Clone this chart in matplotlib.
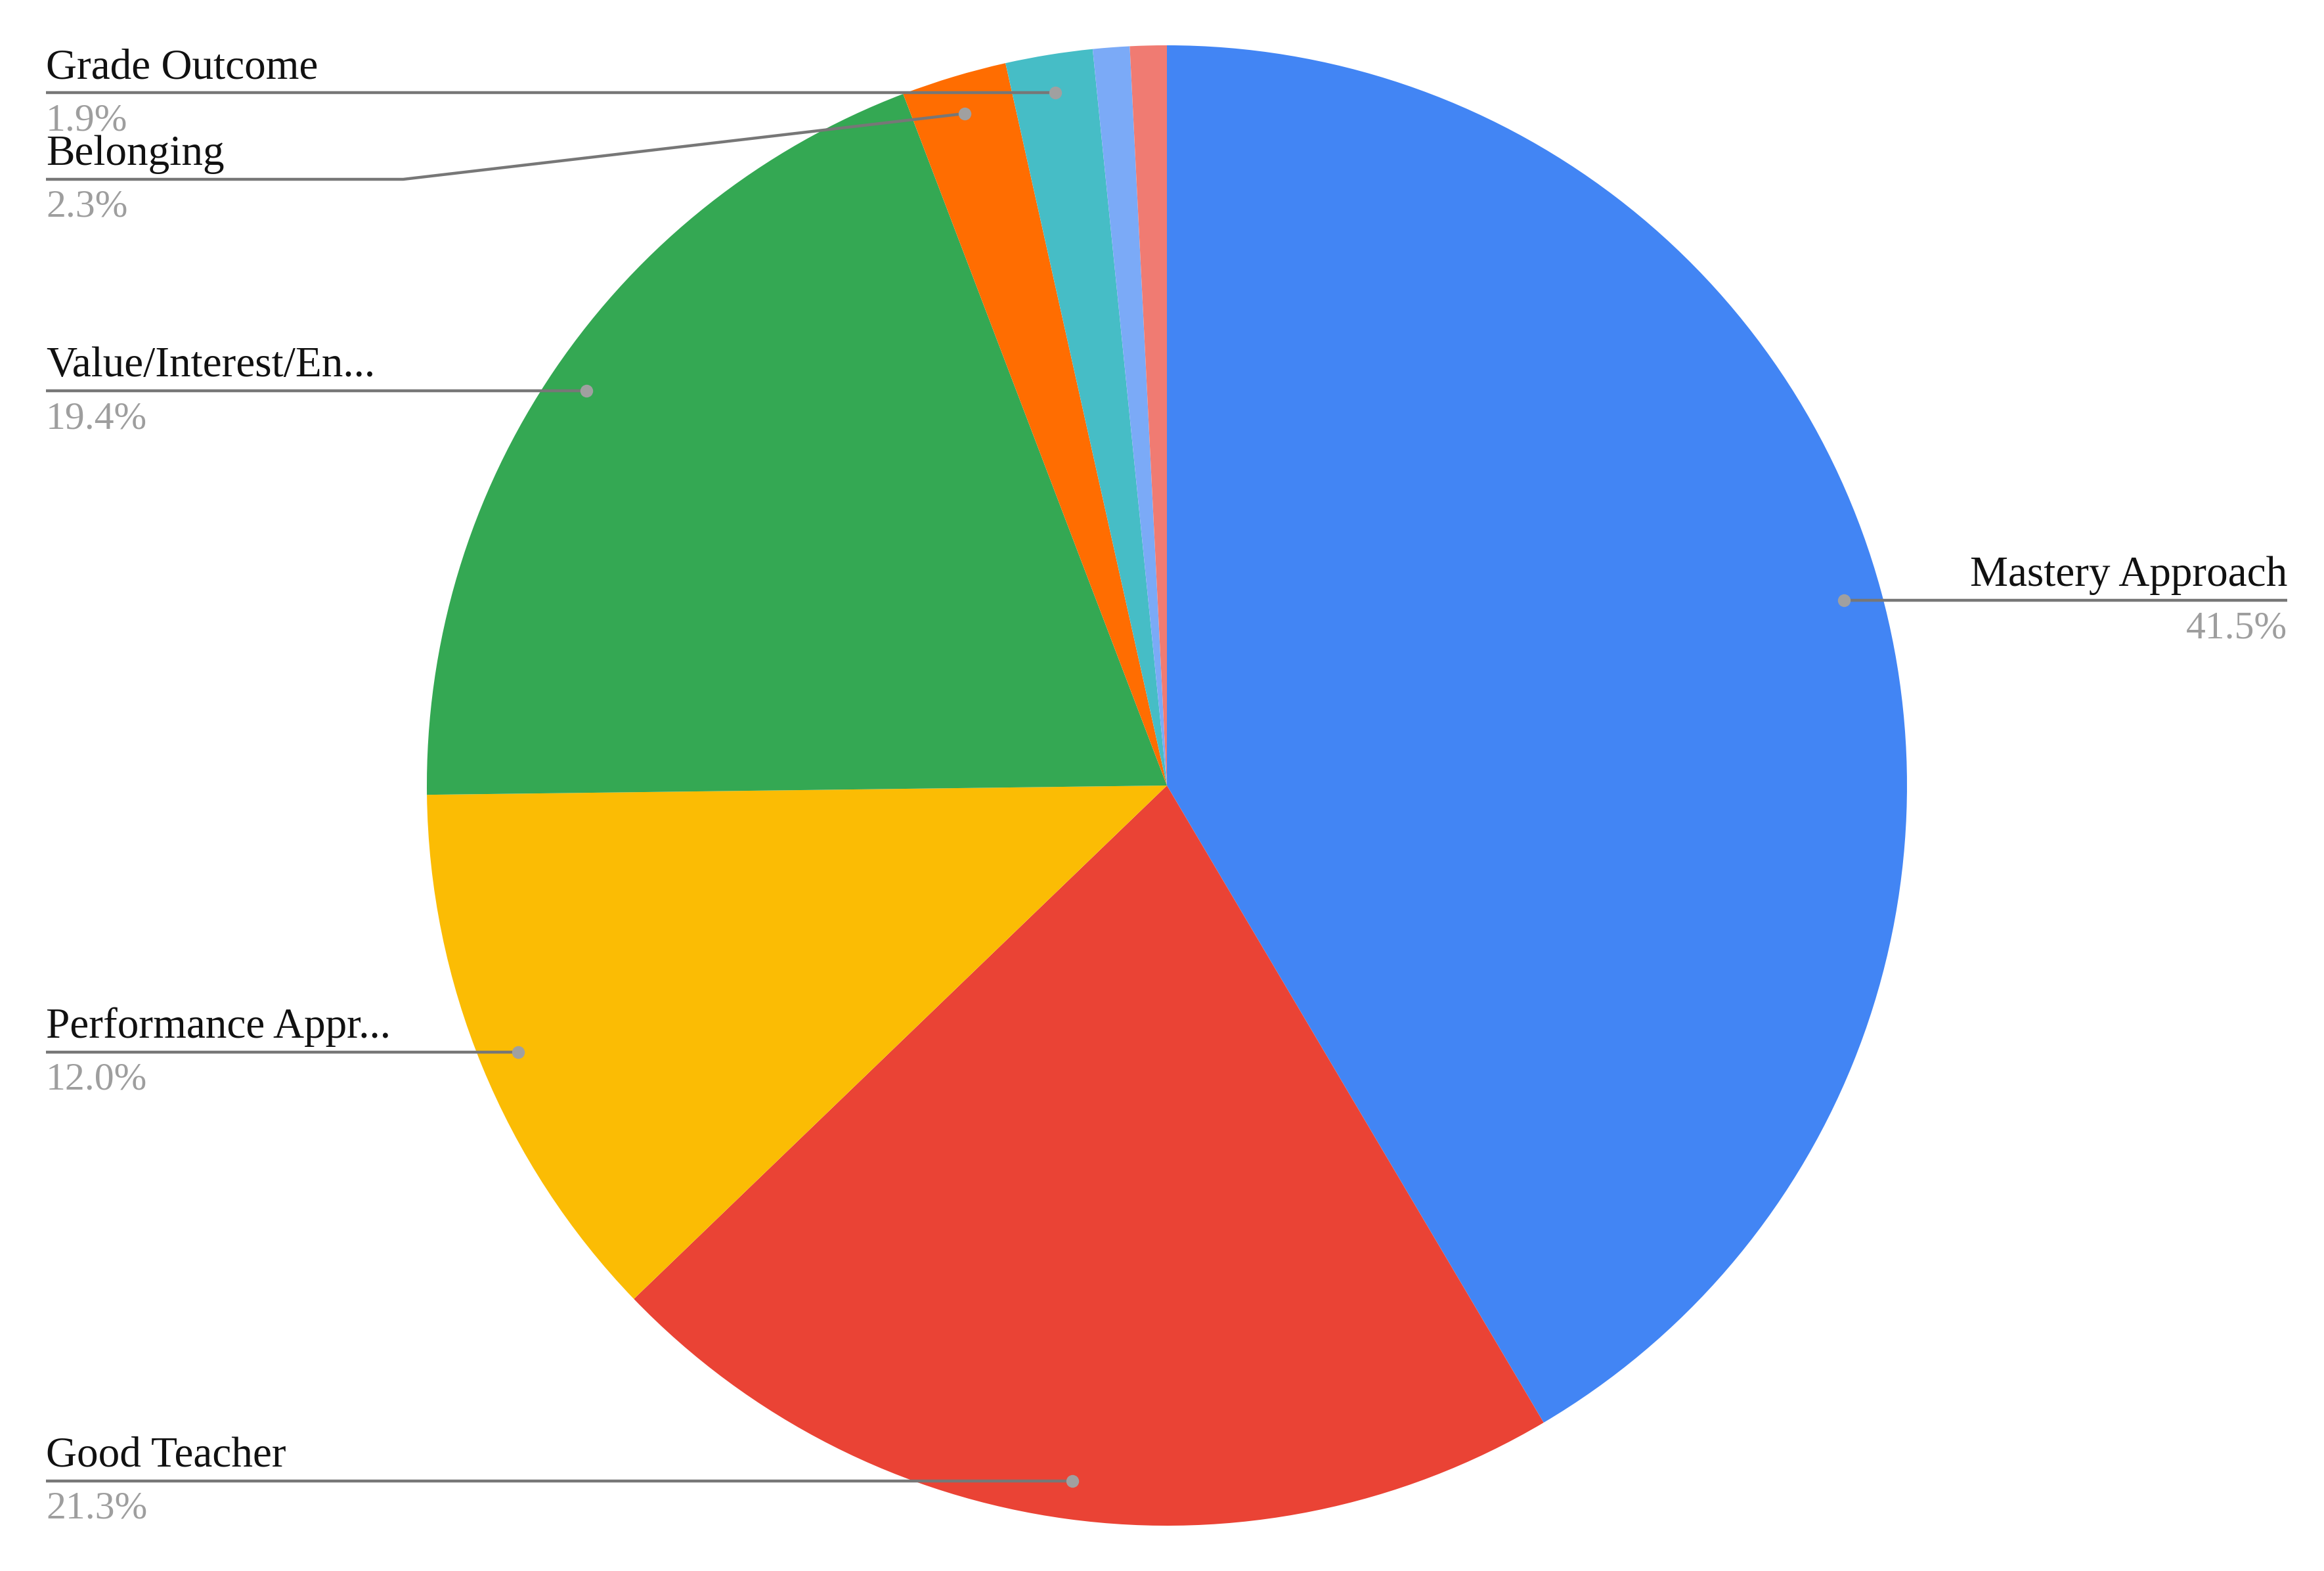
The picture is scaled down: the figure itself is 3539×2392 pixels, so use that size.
import numpy as np
import matplotlib.pyplot as plt

# canvas size in pixels (dpi 100)
W, H = 3539, 2392

# data, clockwise from 12 o'clock
categories = ["Mastery Approach", "Good Teacher", "Performance Appr...",
              "Value/Interest/En...", "Belonging", "Grade Outcome",
              "Other A", "Other B"]
shares = [41.5, 21.3, 12.0, 19.4, 2.3, 1.9, 0.8, 0.8]
colors = ["#4285f4", "#ea4335", "#fbbc04", "#34a853",
          "#ff6d01", "#46bdc6", "#7baaf7", "#f07b72"]
labelled = ["Mastery Approach", "Good Teacher", "Performance Appr...",
            "Value/Interest/En...", "Belonging", "Grade Outcome"]

# label layout (image pixels, y down): side, text x, line y (None = dot's y), elbow x
layout = {
    "Mastery Approach":    ("right", 3483, None, None),
    "Good Teacher":        ("left", 70, None, None),
    "Performance Appr...": ("left", 70, None, None),
    "Value/Interest/En...": ("left", 70, None, None),
    "Belonging":           ("left", 70, 273, 614),
    "Grade Outcome":       ("left", 70, None, None),
}

plt.rcParams['font.family'] = ['Liberation Serif', 'DejaVu Serif']

fig = plt.figure(figsize=(W / 100, H / 100), dpi=100)
ax = fig.add_axes([0, 0, 1, 1])

cx, cy, R = 1777, H - 1196, 1127
wedges, _ = ax.pie(shares, colors=colors, startangle=90, counterclock=False,
                   center=(cx, cy), radius=R, frame=True,
                   wedgeprops=dict(linewidth=0))
ax.set_xlim(0, W)
ax.set_ylim(0, H)
ax.set_aspect('equal')
ax.axis('off')

line_col = "#777777"
dot_col = "#a0a0a0"
pct_col = "#9e9e9e"

for name, share, w in zip(categories, shares, wedges):
    if name not in labelled:
        continue
    mid = np.deg2rad((w.theta1 + w.theta2) / 2)
    dx = cx + 0.948 * R * np.cos(mid)
    dy = cy + 0.948 * R * np.sin(mid)
    side, tx, ly, ex = layout[name]
    ly = dy if ly is None else H - ly
    xs, ys = [dx], [dy]
    if ex is not None:
        xs.append(ex)
        ys.append(ly)
    xs.append(tx)
    ys.append(ly)
    ax.plot(xs, ys, color=line_col, lw=3.2, zorder=3, solid_capstyle='butt')
    ax.plot([dx], [dy], 'o', color=dot_col, ms=14, mec='none', zorder=4)
    ha = 'left' if side == "left" else 'right'
    ax.text(tx, ly + 22, name, ha=ha, va='baseline', fontsize=47,
            color="#111111", zorder=5)
    ax.text(tx, ly - 57, f"{share:.1f}%", ha=ha, va='baseline', fontsize=43,
            color=pct_col, zorder=5)

fig.savefig('out.png', dpi=100, facecolor='white')
